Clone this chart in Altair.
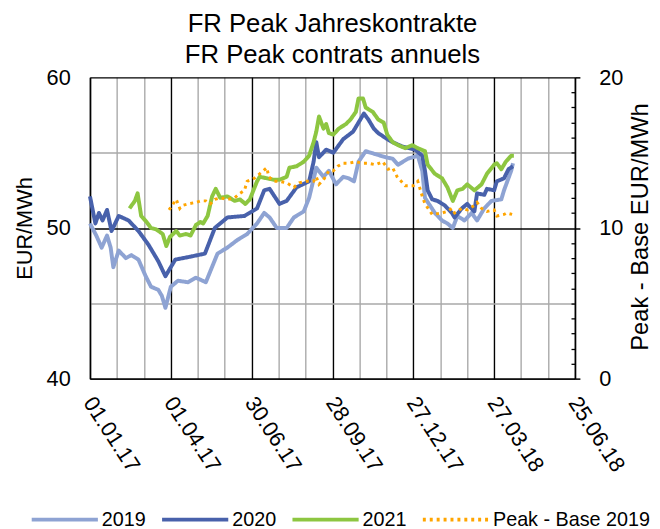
import altair as alt
import pandas as pd

START = "2017-01-01"

# days since 01.01.17 and EUR/MWh values
days_2019 = [0, 7, 13, 19, 23, 26, 32, 40, 46, 54, 62, 68, 76, 80, 84, 90, 98, 109, 118, 129,
             142, 153, 164, 175, 186, 194, 200, 208, 219, 227, 238, 244, 252, 260, 266, 274, 282, 288, 294, 299,
             307, 318, 329, 337, 343, 354, 365, 370, 373, 384, 392, 398, 404, 409, 417, 425, 431, 439, 447, 458,
             461, 469, 471]
vals_2019 = [50.3, 49.5, 48.7, 49.5, 48.7, 47.4, 48.5, 48.0, 48.2, 47.9, 46.8, 46.1, 45.9, 45.5, 44.7, 46.1, 46.5, 46.4, 46.7, 46.4,
             48.3, 48.7, 49.2, 49.6, 50.3, 51.0, 50.7, 50.0, 50.0, 50.7, 51.1, 52.0, 54.0, 53.4, 53.8, 52.9, 53.4, 53.3, 53.1, 54.4,
             55.1, 54.9, 54.7, 54.6, 54.2, 54.6, 54.8, 53.8, 52.0, 51.0, 50.5, 50.3, 50.0, 50.8, 50.5, 51.0, 50.5, 51.3, 51.8, 51.9,
             52.5, 53.8, 54.3]

days_2020 = [0, 6, 10, 14, 19, 24, 32, 43, 54, 65, 76, 84, 95, 112, 128, 139, 153, 172, 186, 194,
             200, 211, 219, 230, 244, 249, 252, 255, 263, 271, 282, 293, 299, 305, 310, 316, 321, 331, 337, 348,
             362, 370, 373, 376, 381, 387, 395, 403, 406, 414, 420, 428, 431, 439, 442, 450, 453, 461, 466, 471]
vals_2020 = [52.1, 50.3, 51.0, 50.5, 51.2, 49.8, 50.8, 50.5, 49.8, 48.9, 47.8, 46.8, 47.9, 48.1, 48.3, 50.0, 50.7, 50.8, 51.3, 52.5,
             52.6, 51.6, 51.8, 52.7, 53.1, 54.4, 55.7, 54.7, 55.2, 55.0, 55.9, 56.4, 57.0, 57.6, 57.2, 56.6, 56.3, 55.9, 55.7, 55.4,
             55.2, 54.8, 53.8, 52.5, 51.9, 51.8, 51.5, 51.0, 50.7, 51.3, 51.6, 51.1, 52.3, 52.2, 52.6, 52.5, 53.1, 53.3, 53.9, 54.1]

days_2021 = [44, 50, 53, 57, 63, 68, 74, 81, 85, 89, 96, 100, 107, 112, 118, 123, 126, 131, 136, 140,
             145, 153, 161, 167, 173, 178, 186, 189, 197, 205, 211, 219, 222, 230, 238, 244, 249, 252, 255, 260,
             263, 266, 271, 277, 285, 290, 296, 299, 304, 307, 315, 321, 327, 331, 337, 343, 351, 359, 365, 373,
             376, 384, 392, 398, 404, 409, 415, 420, 428, 436, 442, 450, 453, 458, 463, 469, 472]
vals_2021 = [51.3, 51.8, 52.3, 50.8, 50.4, 50.0, 49.9, 49.6, 48.8, 49.4, 49.8, 49.5, 49.6, 49.5, 50.2, 50.4, 50.3, 50.8, 52.1, 52.6,
             52.0, 52.1, 51.8, 51.9, 51.6, 51.9, 53.1, 53.4, 53.3, 53.2, 53.2, 53.4, 54.0, 54.1, 54.4, 54.8, 55.7, 56.4, 57.4, 56.6,
             56.9, 56.3, 56.2, 56.6, 56.9, 57.2, 57.7, 58.6, 58.6, 58.0, 57.7, 57.2, 57.0, 56.2, 55.7, 55.5, 55.3, 55.5, 55.3, 55.1,
             54.2, 53.6, 53.3, 52.7, 51.8, 52.5, 52.6, 52.9, 52.5, 52.9, 53.6, 54.2, 54.3, 53.9, 54.4, 54.8, 54.8]

days_pb = [88, 96, 100, 103, 109, 118, 123, 129, 134, 139, 145, 153, 161, 167, 172, 175, 183, 189, 197, 199,
           205, 211, 219, 227, 233, 241, 249, 252, 255, 260, 266, 271, 276, 282, 288, 296, 304, 310, 318, 326,
           332, 337, 342, 351, 360, 365, 370, 373, 381, 392, 398, 403, 406, 414, 420, 428, 431, 436, 442, 450,
           453, 461, 464, 470]
vals_pb = [11.2, 11.9, 11.3, 11.5, 11.6, 11.7, 11.8, 11.8, 11.6, 11.9, 12.0, 11.9, 12.0, 12.3, 12.5, 13.1, 13.3, 13.6, 14.0, 13.4,
           13.1, 13.1, 13.0, 12.7, 13.0, 13.1, 13.1, 13.4, 12.9, 13.2, 13.8, 13.8, 14.1, 14.3, 14.3, 14.4, 14.3, 14.3, 14.2, 14.4,
           13.9, 14.0, 13.4, 12.8, 12.8, 13.1, 12.1, 11.6, 10.9, 11.0, 11.1, 11.3, 11.0, 11.3, 11.2, 11.5, 11.7, 11.3, 11.1, 11.2,
           10.8, 10.9, 11.0, 10.9]

# x-axis: labelled (black grid) dates and the gray grid dates in between
major_dates = ["2017-01-01", "2017-04-01", "2017-06-30", "2017-09-28", "2017-12-27", "2018-03-27", "2018-06-25"]
minor_dates = ["2017-01-31", "2017-03-02", "2017-05-01", "2017-05-31", "2017-07-30", "2017-08-29",
               "2017-10-28", "2017-11-27", "2018-01-26", "2018-02-25", "2018-04-26", "2018-05-26"]

series_names = ["2019", "2020", "2021", "Peak - Base 2019"]
series_colors = ["#8EA3D3", "#4861AB", "#8DC641", "#FFA500"]
series_dashes = [[1, 0], [1, 0], [1, 0], [3, 4]]

left_values = [40, 45, 50, 55, 60]
right_major = [0, 10, 20]
right_minor = [1, 2, 3, 4, 5, 6, 7, 8, 9, 11, 12, 13, 14, 15, 16, 17, 18, 19]


def to_dates(days):
    base = pd.Timestamp(START)
    return [(base + pd.Timedelta(days=d)).strftime("%Y-%m-%d") for d in days]


rows = []
for name, d, v in [("2019", days_2019, vals_2019), ("2020", days_2020, vals_2020), ("2021", days_2021, vals_2021)]:
    for date, val in zip(to_dates(d), v):
        rows.append({"date": date, "value": val, "series": name})
df_main = pd.DataFrame(rows)
df_pb = pd.DataFrame({"date": to_dates(days_pb), "value": vals_pb, "series": "Peak - Base 2019"})


def dt(s):
    y, m, d = map(int, s.split("-"))
    return alt.DateTime(year=y, month=m, date=d, utc=True)


FONT = "Liberation Sans"
W, H = 491, 305
GRAY = "#A9A9A9"

x_main = alt.X(
    "date:T",
    scale=alt.Scale(type="utc", domain=[dt(major_dates[0]), dt(major_dates[-1])], nice=False),
    axis=alt.Axis(
        orient="bottom", values=[dt(s) for s in minor_dates], labels=False, ticks=False, domain=False,
        grid=True, gridColor=GRAY, gridWidth=1.4, title=None,
    ),
    title=None,
)

x_major = alt.X(
    "date:T",
    axis=alt.Axis(
        orient="bottom", values=[dt(s) for s in major_dates], format="%d.%m.%y",
        labelAngle=57, labelAlign="left", labelBaseline="middle",
        labelPadding=20, labelOffset=-2, labelFontSize=22, labelColor="black",
        labelOverlap=False, labelFlush=False,
        ticks=False, domainColor="black", domainWidth=1.5,
        grid=True, gridColor="#000000", gridWidth=1.4, title=None,
    ),
    title=None,
)

color_enc = alt.Color("series:N", scale=alt.Scale(domain=series_names, range=series_colors), title=None)
dash_enc = alt.StrokeDash("series:N", scale=alt.Scale(domain=series_names, range=series_dashes), title=None)

main = alt.Chart(df_main).mark_line(strokeWidth=4, strokeJoin="round").encode(
    x=x_main,
    y=alt.Y(
        "value:Q",
        scale=alt.Scale(domain=[40, 60], nice=False, zero=False),
        axis=alt.Axis(
            values=left_values,
            labelExpr="datum.value % 10 === 0 ? datum.label : ''",
            ticks=False, labelPadding=20, labelFontSize=22, labelColor="black",
            domainColor="black", domainWidth=1.5,
            gridColor={"condition": {"test": "datum.value % 10 === 0", "value": "#000000"}, "value": GRAY},
            gridWidth=1.4,
            title="EUR/MWh", titleFontSize=22, titleFontWeight="normal", titleColor="black",
            titleAngle=270, titleX=-66, titleY=H / 2, titleAlign="center", titleBaseline="middle",
        ),
    ),
    color=color_enc,
    strokeDash=dash_enc,
    order=alt.Order("date:T"),
)

pb = alt.Chart(df_pb).mark_line(strokeWidth=3).encode(
    x=x_major,
    y=alt.Y(
        "value:Q",
        scale=alt.Scale(domain=[0, 20], nice=False),
        axis=alt.Axis(
            orient="right", values=right_major, grid=False,
            ticks=True, tickSize=5, tickColor="black", tickWidth=1.5,
            labelPadding=19, labelFontSize=22, labelColor="black",
            domainColor="black", domainWidth=1.5,
            title="Peak - Base EUR/MWh", titleFontSize=24, titleFontWeight="normal", titleColor="black",
            titleAngle=270, titleX=66, titleY=151, titleAlign="center", titleBaseline="middle",
        ),
    ),
    color=color_enc,
    strokeDash=dash_enc,
)

minor_ticks = alt.Chart(df_pb).mark_point(opacity=0).encode(
    x=alt.X("date:T", axis=None),
    y=alt.Y(
        "value:Q",
        scale=alt.Scale(domain=[0, 20], nice=False),
        axis=alt.Axis(
            orient="left", offset=-W, values=right_minor, grid=False,
            ticks=True, tickSize=4, tickColor="black", tickWidth=1.3,
            labels=False, domain=False, title=None,
        ),
    ),
)

chart = alt.layer(main, pb, minor_ticks).resolve_scale(y="independent").resolve_axis(
    x="independent"
).properties(
    width=W,
    height=H,
    title=alt.TitleParams(
        text=["FR Peak Jahreskontrakte", "FR Peak contrats annuels"],
        fontSize=26, fontWeight="normal", font=FONT, color="black",
        anchor="middle", lineHeight=31, offset=-1,
    ),
    autosize=alt.AutoSizeParams(type="none"),
    padding={"left": 83, "top": 67, "right": 78, "bottom": 149},
).configure(
    font=FONT,
).configure_view(
    stroke=None,
).configure_legend(
    orient="none", legendX=-61, legendY=412, direction="horizontal", columns=4,
    symbolType="stroke", symbolSize=4489, symbolStrokeWidth=4,
    labelFontSize=20, labelColor="black", labelOffset=2, columnPadding=8,
    padding=0, titleFontSize=0,
)

chart.save("out.html", embed_options={"renderer": "svg", "actions": False})
